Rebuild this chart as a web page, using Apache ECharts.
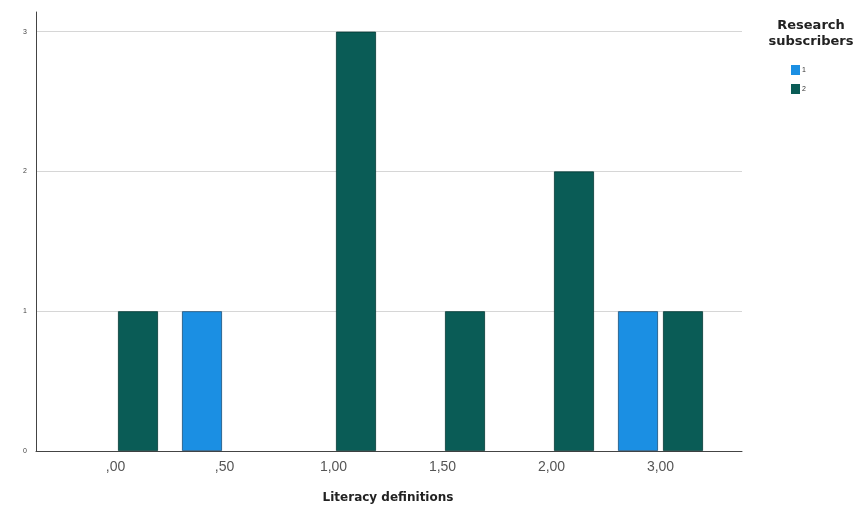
<!DOCTYPE html>
<html>
<head>
<meta charset="utf-8">
<script src="https://cdn.jsdelivr.net/npm/echarts@6/dist/echarts.min.js"></script>
<style>html,body{margin:0;padding:0;background:#fff}#c{width:863px;height:512px}</style>
</head>
<body>
<div id="c"></div>
<script>
const categories = [',00', ',50', '1,00', '1,50', '2,00', '3,00'];
const series1 = [0, 1, 0, 0, 0, 1];
const series2 = [1, 0, 3, 1, 2, 1];
const seriesNames = ['1', '2'];
const yTicks = [0, 1, 2, 3];

const FONT = 'Liberation Sans, Arial, sans-serif';
const BOLD = 'DejaVu Sans, sans-serif';
const noZero = arr => arr.map(v => (v === 0 ? '-' : v));
const chart = echarts.init(document.getElementById('c'));
chart.setOption({
  backgroundColor: '#fff',
  animation: false,
  grid: [
    {left: 36, right: 121, top: 12, bottom: 61},
    {left: 61, right: 148, top: 31.7, bottom: 61},
    {left: 36, right: 121, top: 31.7, bottom: 61}
  ],
  graphic: [{
    type: 'text', x: 811, y: 18,
    style: {text: 'Research\nsubscribers', font: 'bold 13px ' + BOLD, fill: '#222', align: 'center', textAlign: 'center', lineHeight: 16}
  }],
  legend: {
    data: seriesNames, orient: 'vertical', left: 786, top: 60,
    itemWidth: 9, itemHeight: 10, itemGap: 9, icon: 'rect',
    itemStyle: {borderWidth: 0},
    textStyle: {fontSize: 7, color: '#333', fontFamily: FONT, padding: [0, 0, 0, -3]}
  },
  xAxis: [
    {type: 'value', gridIndex: 0, min: 0, max: 1, axisLabel: {show: false}, axisTick: {show: false},
     splitLine: {show: false}, axisLine: {lineStyle: {color: '#444', width: 1}}},
    {type: 'category', gridIndex: 1, data: categories, axisLine: {show: false}, axisTick: {show: false},
     axisLabel: {fontSize: 14, color: '#555', fontFamily: FONT, margin: 9},
     name: 'Literacy definitions', nameLocation: 'middle', nameGap: 41,
     nameTextStyle: {fontSize: 12, fontWeight: 'bold', color: '#222', fontFamily: BOLD}},
    {type: 'value', gridIndex: 2, min: 0, max: 1, show: false}
  ],
  yAxis: [
    {type: 'value', gridIndex: 0, min: 0, max: 3.14, interval: 1,
     axisLine: {show: true, lineStyle: {color: '#444', width: 1}}, axisTick: {show: false},
     axisLabel: {show: false}, splitLine: {show: false}},
    {type: 'value', gridIndex: 1, min: 0, max: 3, interval: 1, show: false, splitLine: {show: false}},
    {type: 'value', gridIndex: 2, min: 0, max: 3, interval: 1,
     axisLine: {show: false}, axisTick: {show: false},
     axisLabel: {fontSize: 7, color: '#444', fontFamily: FONT, margin: 9,
       formatter: v => yTicks.includes(v) ? String(v) : ''},
     splitLine: {show: true, lineStyle: {color: '#d6d6d6', width: 1}}}
  ],
  series: [
    {name: seriesNames[0], type: 'bar', xAxisIndex: 1, yAxisIndex: 1, data: noZero(series1),
     barWidth: 40, barGap: '12.5%',
     itemStyle: {color: '#1b8fe3', borderColor: '#1a4f7a', borderWidth: 0.8}},
    {name: seriesNames[1], type: 'bar', xAxisIndex: 1, yAxisIndex: 1, data: noZero(series2),
     barWidth: 40, barGap: '12.5%',
     itemStyle: {color: '#0a5c56', borderColor: '#053a36', borderWidth: 0.8}}
  ]
});
</script>
</body>
</html>
